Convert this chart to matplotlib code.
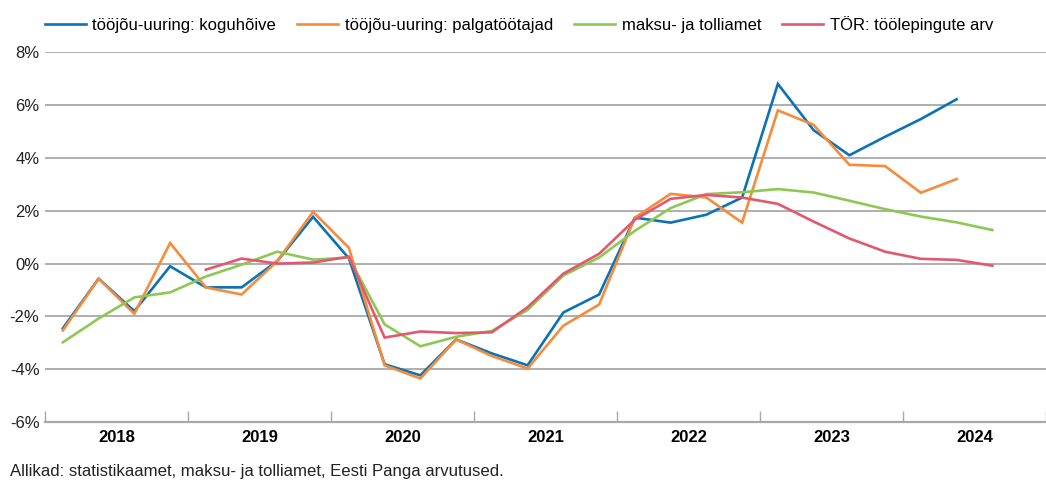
import numpy as np
import matplotlib
matplotlib.use("Agg")
import matplotlib.pyplot as plt

# quarterly data, 2018 Q1 ... 2024 Q3 (percent, yoy)
years = [2018, 2019, 2020, 2021, 2022, 2023, 2024]
koguhoive = [-2.45, -0.57, -1.8, -0.1, -0.9, -0.9, 0.1, 1.77,
             0.2, -3.81, -4.23, -2.87, -3.4, -3.85, -1.85, -1.17,
             1.74, 1.55, 1.85, 2.5, 6.8, 5.05, 4.1, 4.8,
             5.47, 6.22]
palgatootajad = [-2.53, -0.57, -1.9, 0.78, -0.9, -1.17, 0.1, 1.96,
                 0.6, -3.85, -4.35, -2.87, -3.5, -3.97, -2.35, -1.55,
                 1.74, 2.64, 2.5, 1.55, 5.8, 5.25, 3.74, 3.69,
                 2.68, 3.2]
maksuamet = [-2.98, -2.08, -1.28, -1.09, -0.49, -0.04, 0.45, 0.15,
             0.23, -2.3, -3.13, -2.77, -2.55, -1.75, -0.45, 0.23,
             1.24, 2.1, 2.63, 2.7, 2.82, 2.69, 2.38, 2.06,
             1.78, 1.56, 1.27]
tor = [None, None, None, None, -0.23, 0.19, 0.0, 0.04,
       0.26, -2.8, -2.57, -2.63, -2.6, -1.65, -0.38, 0.37,
       1.66, 2.45, 2.6, 2.5, 2.26, 1.59, 0.95, 0.45,
       0.18, 0.14, -0.08]

labels = ["tööjõu-uuring: koguhõive", "tööjõu-uuring: palgatöötajad",
          "maksu- ja tolliamet", "TÖR: töölepingute arv"]
colors = ["#0B72B5", "#F68B3C", "#8DC853", "#E2596E"]

plt.rcParams['font.family'] = ['Liberation Sans', 'DejaVu Sans']
plt.rcParams['font.size'] = 12

fig = plt.figure(figsize=(10.46, 4.88), dpi=100)
ax = fig.add_axes([0.043, 0.135, 0.957, 0.758])

series = [koguhoive, palgatootajad, maksuamet, tor]
for vals, lab, col in zip(series, labels, colors):
    y = np.array([np.nan if v is None else v for v in vals], dtype=float)
    x = np.arange(len(y))
    ax.plot(x, y, color=col, lw=1.9, label=lab, solid_joinstyle='miter')

ax.set_ylim(-6, 8)
ax.set_xlim(-0.45, 27.2)
ax.set_yticks(np.arange(-6, 9, 2))
ax.set_yticklabels(["%d%%" % v for v in np.arange(-6, 9, 2)], color="#222222")
ax.yaxis.grid(True, color="#A8A8A8", lw=1.3)
ax.set_axisbelow(True)
ax.tick_params(axis='y', length=0, pad=4, labelsize=12)

for s in ['top', 'right', 'left']:
    ax.spines[s].set_visible(False)
ax.spines['bottom'].set_color("#A8A8A8")
ax.spines['bottom'].set_linewidth(1.6)

# year boundaries as ticks, year names in the middle
ax.set_xticks([4 * i - 0.5 for i in range(len(years) + 1)])
ax.set_xticklabels([])
ax.tick_params(axis='x', which='major', direction='in', length=8,
               color="#A8A8A8", width=1)
ax.set_xticks([4 * i + 1.5 for i in range(len(years))], minor=True)
ax.set_xticklabels([str(y) for y in years], minor=True,
                   fontweight='bold', fontsize=12)
ax.tick_params(axis='x', which='minor', length=0, pad=6)

fig.legend(loc='upper left', bbox_to_anchor=(0.043, 0.968), ncol=4,
           frameon=False, borderpad=0, borderaxespad=0, handlelength=2.45,
           columnspacing=1.27, handletextpad=0.4, fontsize=12)

fig.text(0.0095, 0.025, "Allikad: statistikaamet, maksu- ja tolliamet, Eesti Panga arvutused.",
         fontsize=12.05, color="#222222")

fig.savefig("out.png", dpi=100)
